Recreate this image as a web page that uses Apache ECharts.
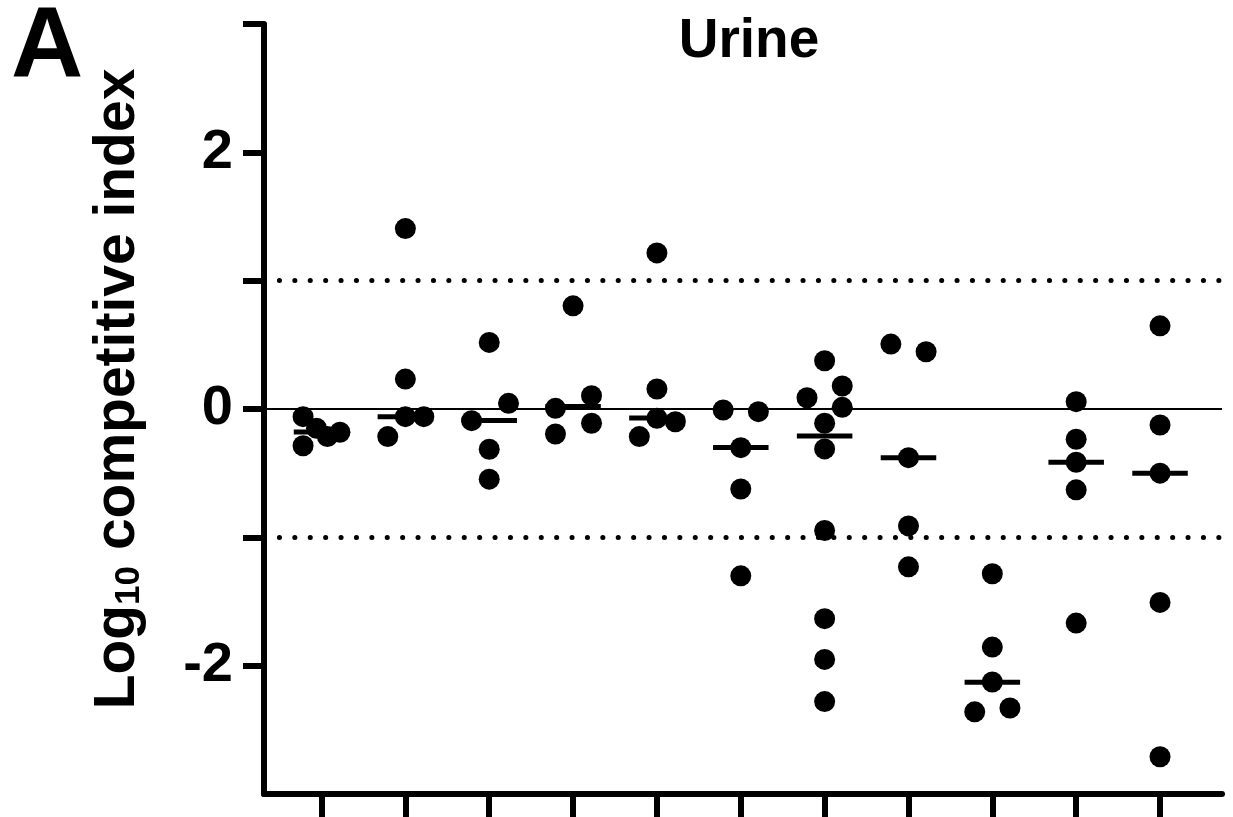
<!DOCTYPE html>
<html>
<head>
<meta charset="utf-8">
<script src="https://cdn.jsdelivr.net/npm/echarts/dist/echarts.min.js"></script>
<style>
  html, body { margin: 0; padding: 0; background: #fff; }
  #chart { width: 1233px; height: 817px; }
</style>
</head>
<body>
<div id="chart"></div>
<script>
// values per group (log10 CI)
var groupValues = [
  [-0.06, -0.286, -0.15, -0.215, -0.181],
  [1.406, 0.233, -0.06, -0.06, -0.215],
  [0.519, 0.044, -0.091, -0.314, -0.547],
  [0.804, 0.104, 0.005, -0.111, -0.195],
  [1.216, 0.156, -0.072, -0.099, -0.215],
  [-0.008, -0.021, -0.301, -0.623, -1.30],
  [0.376, 0.179, 0.088, 0.013, -0.111, -0.311, -0.947, -1.634, -1.951, -2.28],
  [0.506, 0.446, -0.379, -0.911, -1.23],
  [-1.284, -1.855, -2.127, -2.33, -2.36],
  [0.057, -0.236, -0.415, -0.63, -1.668],
  [0.648, -0.125, -0.5, -1.507, -2.71]
]
// horizontal scatter of the dots inside each group (category units)
var groupJitter = [
  [-0.22, -0.22, -0.06, 0.07, 0.22],
  [0, 0, 0, 0.22, -0.21],
  [0, 0.23, -0.21, 0, 0],
  [0, 0.22, -0.21, 0.22, -0.21],
  [0, 0, 0, 0.22, -0.21],
  [-0.21, 0.21, 0, 0, 0],
  [0, 0.21, -0.21, 0.21, 0, 0, 0, 0, 0, 0],
  [-0.21, 0.21, 0, 0, 0],
  [0, 0, 0, 0.21, -0.21],
  [0, 0, 0, 0, 0],
  [0, 0, 0, 0, 0]
]
var medians = [-0.18, -0.06, -0.09, 0.02, -0.07, -0.30, -0.21, -0.38, -2.13, -0.415, -0.50]
var groupPos = [0, 1, 2, 3, 4, 5, 6, 7, 8, 9, 10]
var yTicks = [-2, -1, 0, 1, 2, 3]
var yLabels = [-2, 0, 2]
var refLines = { solid: [0], dotted: [1, -1] }

var FONT = "'Liberation Sans', Arial, sans-serif"

var points = []
groupValues.forEach(function (vals, i) {
  vals.forEach(function (v, j) {
    points.push([groupPos[i] + groupJitter[i][j], v])
  })
})
var medianData = medians.map(function (m, i) { return [groupPos[i], m] })

var chart = echarts.init(document.getElementById('chart'))

var markData = []
refLines.solid.forEach(function (v) {
  markData.push({ yAxis: v, lineStyle: { color: '#000', width: 2, type: 'solid' } })
})
refLines.dotted.forEach(function (v) {
  markData.push({ yAxis: v, lineStyle: { color: '#000', width: 5, type: [0.1, 15.3], cap: 'round' } })
})

var option = {
  animation: false,
  backgroundColor: '#fff',
  grid: { left: 264, right: 11, top: 24, bottom: 23 },
  xAxis: {
    type: 'value',
    min: -0.686,
    max: 10.739,
    axisLine: { onZero: false, lineStyle: { color: '#000', width: 6 } },
    axisTick: { customValues: groupPos, length: 26, lineStyle: { color: '#000', width: 6 } },
    axisLabel: { show: false },
    splitLine: { show: false }
  },
  yAxis: {
    type: 'value',
    min: -3,
    max: 3,
    interval: 1,
    axisLine: { show: true, onZero: false, lineStyle: { color: '#000', width: 6 } },
    axisTick: { show: true, customValues: yTicks, length: 21, lineStyle: { color: '#000', width: 6 } },
    axisLabel: {
      customValues: yLabels,
      margin: 31,
      color: '#000',
      fontSize: 56,
      fontWeight: 'bold',
      fontFamily: FONT
    },
    splitLine: { show: false }
  },
  series: [
    {
      type: 'scatter',
      data: points,
      symbol: 'circle',
      symbolSize: 21,
      itemStyle: { color: '#000', opacity: 1 },
      z: 3,
      markLine: {
        silent: true,
        symbol: 'none',
        label: { show: false },
        data: markData
      }
    },
    {
      type: 'custom',
      data: medianData,
      z: 4,
      renderItem: function (params, api) {
        var x = api.value(0), m = api.value(1)
        var p1 = api.coord([x - 0.331, m])
        var p2 = api.coord([x + 0.331, m])
        return {
          type: 'line',
          shape: { x1: p1[0], y1: p1[1], x2: p2[0], y2: p2[1] },
          style: { stroke: '#000', lineWidth: 5 }
        }
      }
    }
  ],
  graphic: [
    {
      type: 'text', x: 47, y: 49,
      style: { text: 'A', fill: '#000', font: 'bold 100px ' + FONT, align: 'center', verticalAlign: 'middle' }
    },
    {
      type: 'text', x: 749, y: 42,
      style: { text: 'Urine', fill: '#000', font: 'bold 55px ' + FONT, align: 'center', verticalAlign: 'middle' }
    },
    {
      type: 'text', x: 118, y: 389, rotation: Math.PI / 2,
      style: {
        text: '{a|Log}{s|10}{a| competitive index}',
        align: 'center',
        verticalAlign: 'middle',
        rich: {
          a: { fontSize: 57, fontWeight: 'bold', fontFamily: FONT, color: '#000', lineHeight: 57, verticalAlign: 'top' },
          s: { fontSize: 35, fontWeight: 'bold', fontFamily: FONT, color: '#000', lineHeight: 35, padding: [31, 0, 0, 0], verticalAlign: 'bottom' }
        }
      }
    }
  ]
}
chart.setOption(option)
</script>
</body>
</html>
